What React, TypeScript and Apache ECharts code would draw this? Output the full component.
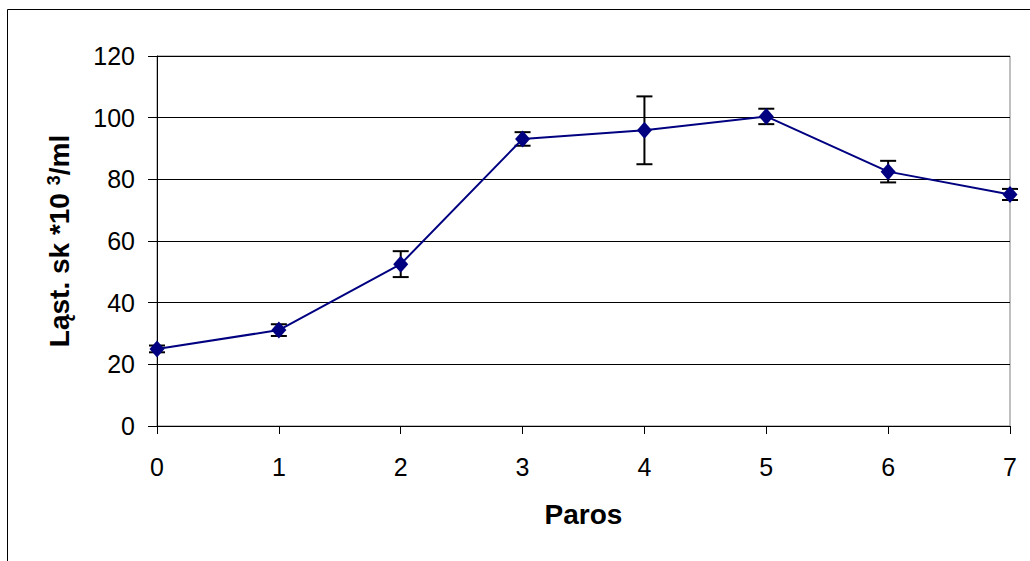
import React, { useEffect, useRef } from "react";
import * as echarts from "echarts";

const paros = [0, 1, 2, 3, 4, 5, 6, 7];
const mean = [25.0, 31.1, 52.5, 93.1, 95.9, 100.4, 82.5, 75.1];
const err = [1.1, 1.9, 4.2, 2.2, 11.0, 2.5, 3.5, 1.8];
const yTicks = { min: 0, max: 120, interval: 20 };
const xTicks = { min: 0, max: 7, interval: 1 };

const FONT = "'Liberation Sans', Arial, sans-serif";

export default function App() {
  const ref = useRef<HTMLDivElement>(null);
  useEffect(() => {
    if (!ref.current) return;
    const chart = echarts.init(ref.current, undefined, { renderer: "svg" });
    const lineData = paros.map((p, i) => [p, mean[i]]);
    const errData = paros.map((p, i) => [p, mean[i] - err[i], mean[i] + err[i]]);
    chart.setOption({
      animation: false,
      backgroundColor: "#fff",
      textStyle: { fontFamily: FONT, color: "#000" },
      graphic: [
        {
          type: "rect",
          silent: true,
          shape: { x: 7.5, y: 9.5, width: 1100, height: 700 },
          style: { fill: "none", stroke: "#000", lineWidth: 1 },
        },
      ],
      grid: {
        left: 157,
        right: 20,
        top: 56,
        bottom: 135,
        show: true,
        borderColor: "#808080",
        borderWidth: 1,
        backgroundColor: "transparent",
      },
      xAxis: {
        type: "value",
        min: xTicks.min,
        max: xTicks.max,
        interval: xTicks.interval,
        name: "Paros",
        nameLocation: "middle",
        nameGap: 74,
        nameTextStyle: { fontSize: 28, fontWeight: "bold", color: "#000", fontFamily: FONT },
        axisLine: { show: true, onZero: false, lineStyle: { color: "#000", width: 1 } },
        axisTick: { show: true, inside: false, length: 8, lineStyle: { color: "#000" } },
        axisLabel: { fontSize: 25, color: "#000", margin: 28, fontFamily: FONT },
        splitLine: { show: false },
      },
      yAxis: {
        type: "value",
        min: yTicks.min,
        max: yTicks.max,
        interval: yTicks.interval,
        name: "{a|Ląst. sk *10 }{b|3}{a|/ml}",
        nameLocation: "middle",
        nameGap: 84,
        nameTextStyle: {
          rich: {
            a: { fontSize: 28, fontWeight: "bold", color: "#000", fontFamily: FONT },
            b: { fontSize: 18, fontWeight: "bold", color: "#000", fontFamily: FONT, verticalAlign: "top" },
          },
        },
        axisLine: { show: true, lineStyle: { color: "#000", width: 1 } },
        axisTick: { show: true, inside: false, length: 9, lineStyle: { color: "#000" } },
        axisLabel: { fontSize: 25, color: "#000", margin: 22, fontFamily: FONT },
        splitLine: { show: true, lineStyle: { color: "#000", width: 1 } },
      },
      series: [
        {
          type: "custom",
          z: 2,
          clip: false,
          data: errData,
          encode: { x: 0, y: [1, 2] },
          renderItem: (params: any, api: any) => {
            const x = api.value(0);
            const lo = api.coord([x, api.value(1)]);
            const hi = api.coord([x, api.value(2)]);
            const hw = 8;
            const st = { stroke: "#000", lineWidth: 2 };
            return {
              type: "group",
              children: [
                { type: "line", shape: { x1: lo[0], y1: lo[1], x2: hi[0], y2: hi[1] }, style: st },
                { type: "line", shape: { x1: lo[0] - hw, y1: lo[1], x2: lo[0] + hw, y2: lo[1] }, style: st },
                { type: "line", shape: { x1: hi[0] - hw, y1: hi[1], x2: hi[0] + hw, y2: hi[1] }, style: st },
              ],
            };
          },
        },
        {
          type: "line",
          z: 3,
          clip: false,
          data: lineData,
          symbol: "diamond",
          symbolSize: [15, 17],
          lineStyle: { color: "#000080", width: 2 },
          itemStyle: { color: "#000080" },
        },
      ],
    });
    return () => chart.dispose();
  }, []);
  return (
    <div
      ref={ref}
      style={{ position: "absolute", left: 0, top: 0, width: 1030, height: 561 }}
    />
  );
}
